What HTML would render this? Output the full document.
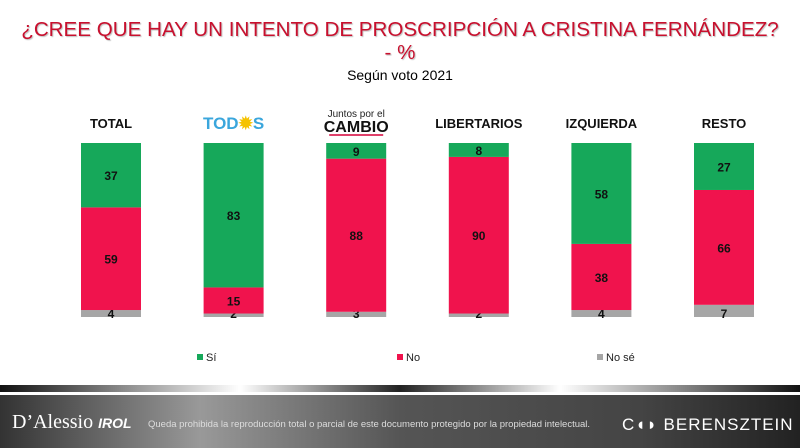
<!DOCTYPE html>
<html><head><meta charset="utf-8"><style>
body{margin:0;width:800px;height:448px;overflow:hidden;background:#fff;font-family:"Liberation Sans",Arial,sans-serif;position:relative}
.t{position:absolute;left:0;width:800px;text-align:center;color:#c8102e;font-size:20.6px;text-shadow:1px 1px 1px rgba(0,0,0,0.25)}
</style></head><body>
<div class="t" style="top:18px">¿CREE QUE HAY UN INTENTO DE PROSCRIPCIÓN A CRISTINA FERNÁNDEZ?</div>
<div class="t" style="top:41px">- %</div>
<div style="position:absolute;top:67px;width:800px;text-align:center;font-size:14px">Según voto 2021</div>
<svg id="c" width="800" height="448" style="position:absolute;left:0;top:0">
<defs>
<linearGradient id="ft" x1="0" x2="1" y1="0" y2="0"><stop offset="0" stop-color="#333"/><stop offset="0.25" stop-color="#999"/><stop offset="0.5" stop-color="#555"/><stop offset="0.8" stop-color="#444"/><stop offset="1" stop-color="#222"/></linearGradient>
<linearGradient id="st" x1="0" x2="1"><stop offset="0" stop-color="#111"/><stop offset="0.3" stop-color="#fff"/><stop offset="0.5" stop-color="#222"/><stop offset="0.7" stop-color="#fff"/><stop offset="1" stop-color="#111"/></linearGradient>
</defs>
<rect x="0" y="385" width="800" height="7" fill="url(#st)"/>
<rect x="0" y="392" width="800" height="3" fill="#fff"/>
<rect x="0" y="395" width="800" height="53" fill="url(#ft)"/>
<text x="12" y="428" fill="#fff" font-family="Liberation Serif" font-size="20">D’Alessio <tspan font-family="Liberation Sans" font-style="italic" font-weight="bold" font-size="14">IROL</tspan></text>
<text x="148" y="427" fill="#ddd" font-size="9.5">Queda prohibida la reproducción total o parcial de este documento protegido por la propiedad intelectual.</text>
<text x="622" y="430" fill="#fff" font-size="17" letter-spacing="1">C◖◗ BERENSZTEIN</text>
</svg>
<script>
const categories=["TOTAL","TODOS","CAMBIO","LIBERTARIOS","IZQUIERDA","RESTO"];
const si=[37,83,9,8,58,27];
const no=[59,15,88,90,38,66];
const nose=[4,2,3,2,4,7];
const svg=document.getElementById('c');const NS='http://www.w3.org/2000/svg';
const top0=143,bot=317,H=bot-top0;const y=v=>H*v/100;
const xs=i=>81+i*122.6,bw=60;
function mk(t,a,p){const e=document.createElementNS(NS,t);for(const k in a)e.setAttribute(k,a[k]);(p||svg).appendChild(e);return e;}
categories.forEach((c,i)=>{
 const x=xs(i);let yy=bot;
 const segs=[[nose[i],'#a6a6a6','nose'],[no[i],'#f0134d','no'],[si[i],'#16a85a','si']];
 segs.forEach(s=>{const h=y(s[0]);yy-=h;
  const r=mk('rect',{x:x,y:yy,width:bw,height:h,fill:s[1]});
  
  
  const ty=s[2]==='nose'?bot+1:yy+h/2+5;
  const t=mk('text',{x:x+bw/2,y:ty,'text-anchor':'middle','font-size':12,'font-weight':'bold',fill:'#111'});t.textContent=s[0];
  
  
 });
 let t;
 if(c==='TODOS'){t=mk('text',{x:x+bw/2,y:129,'text-anchor':'middle','font-size':17,'font-weight':'bold',fill:'#3aa6dc'});t.innerHTML='TOD<tspan fill="#f5c200">✹</tspan>S';}
 else if(c==='CAMBIO'){const g=mk('text',{x:x+bw/2,y:117,'text-anchor':'middle','font-size':10,fill:'#222'});g.textContent='Juntos por el';
  t=mk('text',{x:x+bw/2,y:132,'text-anchor':'middle','font-size':16,'font-weight':'bold',fill:'#111'});t.textContent='CAMBIO';
  mk('rect',{x:x+3,y:134,width:bw-6,height:2,fill:'#e0406a'});}
 else{t=mk('text',{x:x+bw/2,y:128,'text-anchor':'middle','font-size':13,'font-weight':'bold',fill:'#111'});t.textContent=c;}
 
 
});
[['Sí','#16a85a',197],['No','#f0134d',397],['No sé','#a6a6a6',597]].forEach(l=>{
 const r=mk('rect',{x:l[2],y:354,width:6,height:6,fill:l[1]});
 
 
 const t=mk('text',{x:l[2]+9,y:361,'font-size':11,fill:'#222'});t.textContent=l[0];
 
 
});
</script>
</body></html>
